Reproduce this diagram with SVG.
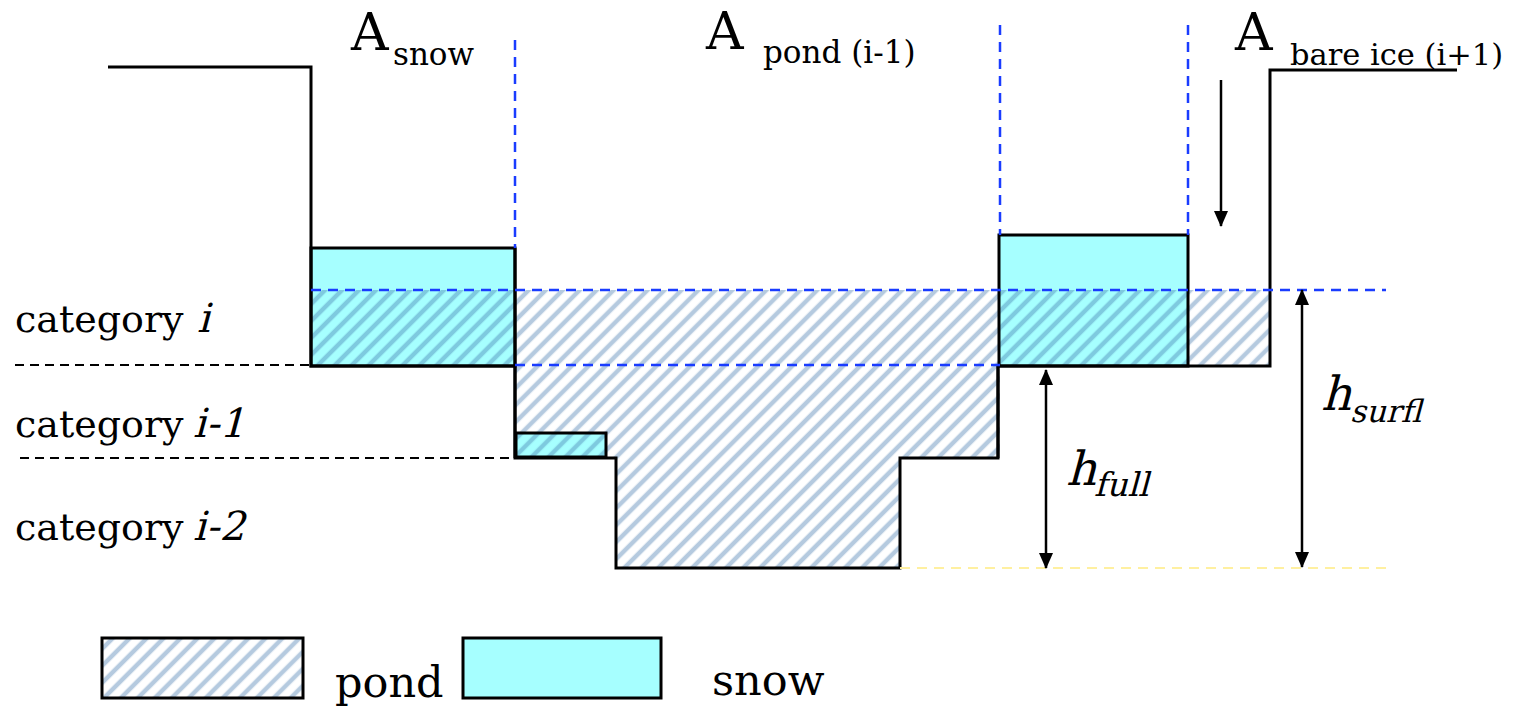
<svg xmlns="http://www.w3.org/2000/svg" width="1515" height="711" viewBox="0 0 1515 711">
<style>
.ol{fill:none;stroke:#000;stroke-width:3}
.snow{fill:#a6ffff}
.hatch{fill:url(#hp)}
.bd{stroke:#1a3cff;stroke-width:2.5;stroke-dasharray:10 7;fill:none}
.kd{stroke:#000;stroke-width:2;stroke-dasharray:9 6;fill:none}
.arr{stroke:#000;stroke-width:2.5;fill:none}
</style>
<defs>
<pattern id="hp" patternUnits="userSpaceOnUse" width="12" height="12" patternTransform="rotate(45)">
<line x1="3" y1="-2" x2="3" y2="14" stroke="#3c75ab" stroke-opacity="0.38" stroke-width="4.5"/>
</pattern>
<marker id="ah" markerWidth="16" markerHeight="14" refX="15" refY="7" orient="auto-start-reverse" markerUnits="userSpaceOnUse">
<path d="M0,0 L16,7 L0,14 Z" fill="#000"/>
</marker>
</defs>
<rect width="1515" height="711" fill="#fff"/>

<g id="snow-left"><rect class="snow" x="311" y="248" width="204" height="118"/></g>
<g id="snow-small"><rect class="snow" x="516" y="433" width="90" height="24"/></g>
<g id="snow-right"><rect class="snow" x="1000" y="235" width="188" height="131"/></g>

<g id="pond">
<polygon class="hatch" points="311,290 1270,290 1270,366 1000,366 1000,458 900,458 900,568 616,568 616,458 515,458 515,366 311,366"/>
</g>

<g id="outlines">
<path class="ol" d="M108,67 H311 V366 H515 V458 H616 V568 H900 V458 H998 V366 H1270 V70 H1457"/>
<rect class="ol" x="311" y="248" width="204" height="118"/>
<line class="ol" x1="515" y1="248" x2="515" y2="458"/>
<rect class="ol" x="516" y="433" width="90" height="24"/>
<rect class="ol" x="999" y="235" width="189" height="131"/>
<line class="ol" x1="998" y1="366" x2="998" y2="458"/>
</g>

<g id="connectors">
<line class="bd" x1="515" y1="40" x2="515" y2="248"/>
<line class="bd" x1="1000" y1="25" x2="1000" y2="235"/>
<line class="bd" x1="1188" y1="25" x2="1188" y2="235"/>
<line class="bd" x1="311" y1="290" x2="1386" y2="290"/>
<line class="bd" x1="515" y1="365" x2="1000" y2="365"/>
<line class="kd" x1="15" y1="365" x2="311" y2="365"/>
<line class="kd" x1="20" y1="458" x2="515" y2="458"/>
<line x1="900" y1="568" x2="1393" y2="568" stroke="#fff0a0" stroke-width="2" stroke-dasharray="10 7"/>
<line class="arr" x1="1221" y1="80" x2="1221" y2="226" marker-end="url(#ah)"/>
<line class="arr" x1="1046" y1="370" x2="1046" y2="568" marker-start="url(#ah)" marker-end="url(#ah)"/>
<line class="arr" x1="1302" y1="290" x2="1302" y2="567" marker-start="url(#ah)" marker-end="url(#ah)"/>
</g>

<g id="labels" font-family="'DejaVu Serif', serif" fill="#000">
<text x="351" y="50" font-size="52">A</text>
<text x="393" y="65" font-size="31">snow</text>
<text x="706" y="49" font-size="52">A</text>
<text x="763" y="63" font-size="31">pond (i-1)</text>
<text x="1235" y="50" font-size="52">A</text>
<text x="1290" y="65" font-size="30.5">bare ice (i+1)</text>
<text x="15" y="332" font-size="38">category</text>
<text transform="translate(197,332) skewX(-15)" font-size="40">i</text>
<text x="15" y="437" font-size="38">category</text>
<text transform="translate(193,437) skewX(-15)" font-size="40">i-1</text>
<text x="15" y="540" font-size="38">category</text>
<text transform="translate(193,540) skewX(-15)" font-size="40">i-2</text>
<text transform="translate(1066,485) skewX(-15)" font-size="47">h</text>
<text transform="translate(1094,496) skewX(-15)" font-size="33">full</text>
<text transform="translate(1321,410) skewX(-15)" font-size="47">h</text>
<text transform="translate(1350,422) skewX(-15)" font-size="31">surfl</text>
</g>

<g id="legend" font-family="'DejaVu Serif', serif" fill="#000">
<rect class="hatch" x="102" y="638" width="201" height="60"/>
<rect class="ol" x="102" y="638" width="201" height="60" stroke-width="2.5"/>
<text x="335" y="697" font-size="43">pond</text>
<rect class="snow" x="463" y="638" width="198" height="60"/>
<rect class="ol" x="463" y="638" width="198" height="60" stroke-width="2.5"/>
<text x="712" y="695" font-size="43">snow</text>
</g>
</svg>
